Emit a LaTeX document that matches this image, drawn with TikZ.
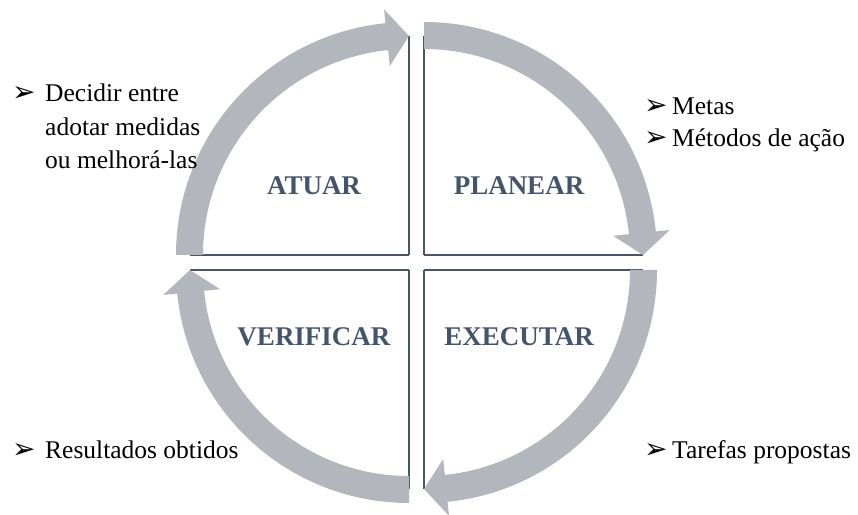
\documentclass[tikz,border=0pt]{standalone}
\usepackage{fontspec}
\setmainfont{Liberation Serif}
\newfontfamily\symfont{DejaVu Sans}
\definecolor{bandgray}{HTML}{B3B6BC}
\definecolor{linegray}{HTML}{4A5568}
\definecolor{labelblue}{HTML}{44546A}
\tikzset{
  band/.style={fill=bandgray, draw=none},
  qline/.style={draw=linegray, line width=1.5pt},
  lbl/.style={font=\fontsize{27}{30}\selectfont\bfseries, text=labelblue, inner sep=0pt},
  txt/.style={font=\fontsize{25.5}{30}\selectfont, anchor=base west, inner sep=0pt},
  bul/.style={font=\symfont\fontsize{28}{30}\selectfont, anchor=base west, inner sep=0pt}
}
\newcommand{\quadarrow}[4]{% corner, start angle, base angle, tip angle
  \begin{scope}[shift={(#1)}]
    \draw[qline] (0,0) -- (#2:219) (0,0) -- (#4:219);
    \fill[band] (#2:233) arc[start angle=#2, end angle=#3, radius=233]
      -- (#3:247) -- (#4:219) -- (#3:190) -- (#3:206)
      arc[start angle=#3, end angle=#2, radius=206] -- cycle;
  \end{scope}}
\begin{document}
\begin{tikzpicture}[x=1pt,y=1pt]
\useasboundingbox (0,0) rectangle (858,514);
\fill[white] (0,0) rectangle (858,514);
\coordinate (tr) at (424,259);
\coordinate (tl) at (409,259);
\coordinate (bl) at (409,244);
\coordinate (br) at (424,244);
\quadarrow{tr}{90}{5.8}{0}
\quadarrow{tl}{180}{95.8}{90}
\quadarrow{bl}{270}{185.8}{180}
\quadarrow{br}{360}{275.8}{270}
\node[lbl] (atuar) at (314,328) {ATUAR};
\node[lbl] (planear) at (519,328) {PLANEAR};
\node[lbl] (verificar) at (314,177) {VERIFICAR};
\node[lbl] (executar) at (519,177) {EXECUTAR};
% top-left text
\node[bul] (b1) at (12,412) {➢};
\node[txt] (t1a) at (45,412) {Decidir entre};
\node[txt] (t1b) at (45,378.5) {adotar medidas};
\node[txt] (t1c) at (45,345) {ou melhorá-las};
% top-right text
\node[bul] (b2) at (644,399) {➢};
\node[txt] (t2a) at (672,399) {Metas};
\node[bul] (b3) at (644,367) {➢};
\node[txt] (t2b) at (672,367) {Métodos de ação};
% bottom texts
\node[bul] (b4) at (12,56) {➢};
\node[txt] (t3) at (45,56) {Resultados obtidos};
\node[bul] (b5) at (644,56) {➢};
\node[txt] (t4) at (672,56) {Tarefas propostas};
\end{tikzpicture}
\end{document}
